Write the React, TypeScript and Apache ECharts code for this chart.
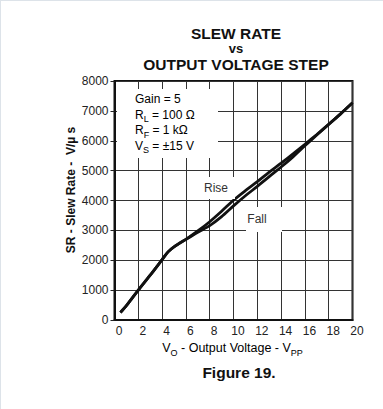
import React, { useEffect, useRef } from "react";
import * as echarts from "echarts";

const voltage = [0.5, 1, 2, 3, 4, 4.5, 5, 6, 7, 8, 9, 10, 11, 12, 13, 14, 15, 16, 17, 18, 19, 20];
const riseRate = [250, 480, 1000, 1500, 2020, 2280, 2450, 2700, 2980, 3290, 3640, 4010, 4330, 4630, 4950, 5250, 5560, 5880, 6210, 6550, 6900, 7270];
const fallRate = [250, 480, 1000, 1500, 2020, 2280, 2450, 2700, 2940, 3160, 3460, 3820, 4160, 4470, 4800, 5120, 5460, 5830, 6190, 6550, 6900, 7270];
const conditions = ["{a|Gain = 5}", "{a|R}{s|L}{a| = 100 Ω}", "{a|R}{s|F}{a| = 1 kΩ}", "{a|V}{s|S}{a| = ±15 V}"];
const titleLines = ["SLEW RATE", "vs", "OUTPUT VOLTAGE STEP"];

const FONT = "'Liberation Sans', Arial, sans-serif";

export default function App() {
  const ref = useRef<HTMLDivElement>(null);
  useEffect(() => {
    if (!ref.current) return;
    const chart = echarts.init(ref.current, null, { renderer: "svg" });
    const pair = (ys: number[]) => voltage.map((x, i) => [x, ys[i]]);
    const richBase = {
      a: { fontSize: 12, lineHeight: 18, fontFamily: FONT, color: "#333" },
      s: { fontSize: 9, lineHeight: 9, verticalAlign: "bottom", fontFamily: FONT, color: "#333" },
    };
    chart.setOption({
      animation: false,
      backgroundColor: "#fff",
      grid: { left: 114.5, right: 30.5, top: 81, bottom: 89, show: true, borderColor: "#111", borderWidth: 2, backgroundColor: "transparent" },
      xAxis: {
        type: "value",
        min: 0,
        max: 20,
        interval: 2,
        axisLine: { show: true, lineStyle: { color: "#111", width: 2 } },
        axisTick: { show: false },
        splitLine: { show: true, lineStyle: { color: "#333", width: 1 } },
        axisLabel: { fontSize: 12, color: "#222", fontFamily: FONT, margin: 5, padding: [0, 0, 0, 9] },
      },
      yAxis: {
        type: "value",
        min: 0,
        max: 8000,
        interval: 1000,
        axisLine: { show: true, lineStyle: { color: "#111", width: 2 } },
        axisTick: { show: true, length: 4, lineStyle: { color: "#222", width: 1 } },
        splitLine: { show: true, lineStyle: { color: "#333", width: 1 } },
        axisLabel: { fontSize: 12, color: "#222", fontFamily: FONT, margin: 6, formatter: (v: number) => String(v) },
      },
      series: [
        { name: "Rise", type: "line", data: pair(riseRate), smooth: 0.3, showSymbol: false, lineStyle: { color: "#111", width: 2.8 }, z: 5 },
        { name: "Fall", type: "line", data: pair(fallRate), smooth: 0.3, showSymbol: false, lineStyle: { color: "#111", width: 2.8 }, z: 5 },
      ],
      graphic: [
        { type: "rect", z: 100, shape: { x: 0, y: 0, width: 383, height: 1 }, style: { fill: "#dde3e9" } },
        { type: "rect", z: 100, shape: { x: 0, y: 0, width: 1, height: 409 }, style: { fill: "#dde3e9" } },
        { type: "text", z: 100, x: 236, y: 33, style: { text: titleLines[0], font: `bold 15.5px ${FONT}`, fill: "#111", textAlign: "center", textVerticalAlign: "middle" } },
        { type: "text", z: 100, x: 236, y: 48, style: { text: titleLines[1], font: `bold 13px ${FONT}`, fill: "#111", textAlign: "center", textVerticalAlign: "middle" } },
        { type: "text", z: 100, x: 236, y: 64, style: { text: titleLines[2], font: `bold 15.5px ${FONT}`, fill: "#111", textAlign: "center", textVerticalAlign: "middle" } },
        { type: "text", z: 100, x: 239, y: 372, style: { text: "Figure 19.", font: `bold 15.5px ${FONT}`, fill: "#111", textAlign: "center", textVerticalAlign: "middle" } },
        {
          type: "text", z: 100, x: 71, y: 190, rotation: Math.PI / 2,
          style: { text: "SR - Slew Rate -  V/µ s", font: `bold 12px ${FONT}`, fill: "#111", textAlign: "center", textVerticalAlign: "middle" },
        },
        {
          type: "text", z: 100, x: 232.5, y: 348,
          style: {
            text: "{a|V}{s|O}{a| - Output Voltage - V}{s|PP}",
            textAlign: "center", textVerticalAlign: "middle",
            rich: {
              a: { fontSize: 12.5, lineHeight: 18, fontFamily: FONT, color: "#111" },
              s: { fontSize: 9, lineHeight: 9, verticalAlign: "bottom", fontFamily: FONT, color: "#111" },
            },
          },
        },
        { type: "rect", z: 50, shape: { x: 117, y: 89, width: 101, height: 69 }, style: { fill: "#fff" } },
        { type: "rect", z: 50, shape: { x: 198, y: 177, width: 37, height: 22 }, style: { fill: "#fff" } },
        { type: "rect", z: 50, shape: { x: 246, y: 207, width: 36, height: 25 }, style: { fill: "#fff" } },
        ...conditions.map((t, i) => ({
          type: "text", z: 100, x: 135, y: 99 + i * 15.5,
          style: { text: t, textVerticalAlign: "middle", rich: richBase },
        })),
        { type: "text", z: 100, x: 216, y: 188, style: { text: "Rise", font: `12px ${FONT}`, fill: "#333", textAlign: "center", textVerticalAlign: "middle" } },
        { type: "text", z: 100, x: 257, y: 219, style: { text: "Fall", font: `12px ${FONT}`, fill: "#333", textAlign: "center", textVerticalAlign: "middle" } },
      ],
    });
    return () => chart.dispose();
  }, []);
  return <div ref={ref} style={{ position: "fixed", left: 0, top: 0, width: 383, height: 409 }} />;
}
